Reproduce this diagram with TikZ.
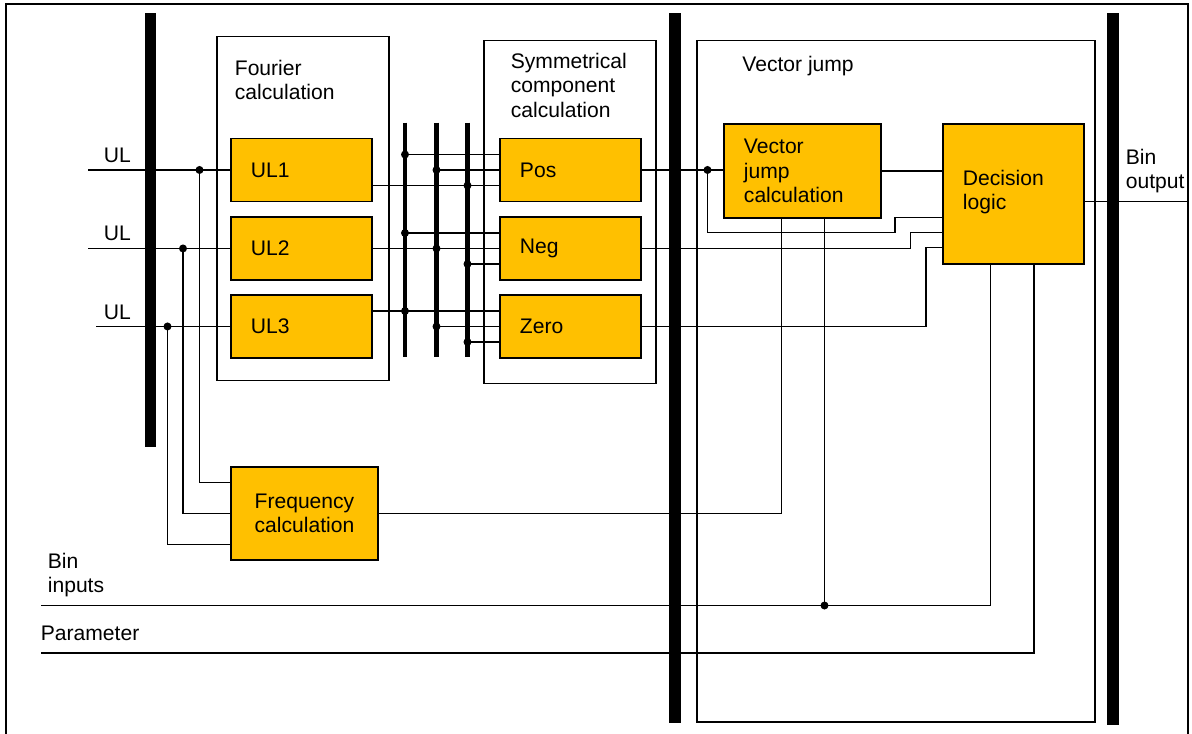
\documentclass[tikz,border=0pt]{standalone}
\usepackage{fontspec}
\setmainfont{Liberation Sans}
\definecolor{boxyellow}{RGB}{255,192,0}

\tikzset{
    calcbox/.style={draw=black, line width=1.1pt, fill=boxyellow, anchor=north west, inner xsep=0.4cm, align=left},
    groupbox/.style={draw=black, line width=0.9pt, anchor=north west, inner sep=0},
    title/.style={anchor=north west, inner sep=0, align=left},
    sig/.style={anchor=base west, inner sep=0},
    dot/.style={circle, fill=black, inner sep=0, minimum size=0.16cm},
    bus/.style={line width=2.3pt},
}

\begin{document}
\begin{tikzpicture}[font=\fontsize{12}{14}\selectfont, line width=1pt]
                \useasboundingbox (0,0) rectangle (23.84,-14.66);
                \draw[line width=1.2pt] (0.12,-0.08) rectangle (23.76,-15);

                % heavy rails
                \fill (2.9,-0.26) rectangle (3.12,-8.94);
                \fill (13.38,-0.26) rectangle (13.62,-14.46);
                \fill (22.14,-0.26) rectangle (22.38,-14.5);

                % function frames
                \node[groupbox, minimum width=3.44cm, minimum height=6.88cm] (fourier) at (4.32,-0.71) {};
                \node[groupbox, minimum width=3.44cm, minimum height=6.86cm] (symcomp) at (9.66,-0.79) {};
                \node[groupbox, minimum width=7.96cm, minimum height=13.63cm] (vjump) at (13.92,-0.79) {};
                \node[title] (fourier-title) at (4.68,-1.18) {Fourier\\calculation};
                \node[title] (symcomp-title) at (10.2,-1.04) {Symmetrical\\component\\calculation};
                \node[sig] (vjump-title) at (14.83,-1.434) {Vector jump};

                % blocks
                \node[calcbox, minimum height=1.26cm, text width=2.02cm] (ul1) at (4.6,-2.75) {UL1};
                \node[calcbox, minimum height=1.26cm, text width=2.02cm] (ul2) at (4.6,-4.32) {UL2};
                \node[calcbox, minimum height=1.26cm, text width=2.02cm] (ul3) at (4.6,-5.88) {UL3};
                \node[calcbox, minimum height=1.26cm, text width=2.02cm] (pos) at (9.98,-2.75) {Pos};
                \node[calcbox, minimum height=1.26cm, text width=2.02cm] (neg) at (9.98,-4.32) {Neg};
                \node[calcbox, minimum height=1.26cm, text width=2.02cm] (zero) at (9.98,-5.88) {Zero};
                \node[calcbox, minimum height=1.88cm, text width=2.34cm] (vjcalc) at (14.46,-2.46) {Vector\\jump\\calculation};
                \node[calcbox, minimum height=2.8cm, text width=2.02cm] (decision) at (18.84,-2.46) {Decision\\logic\\[-0.33cm]\mbox{}};
                \node[calcbox, minimum height=1.86cm, text width=2.14cm, align=center] (freq) at (4.6,-9.32) {Frequency\\calculation};

                % voltage inputs and taps to frequency
                \coordinate (inx) at (1.76,0);
                \coordinate (inx3) at (1.92,0);
                \draw (ul1.west -| inx) -- (ul1.west);
                \draw (ul2.west -| inx) -- (ul2.west);
                \draw (ul3.west -| inx3) -- (ul3.west);
                \node[sig] (ul-in1) at (2.06,-3.246) {UL};
                \node[sig] (ul-in2) at (2.06,-4.814) {UL};
                \node[sig] (ul-in3) at (2.06,-6.38) {UL};

                \coordinate (tx1) at (3.99,0);
                \coordinate (tx2) at (3.66,0);
                \coordinate (tx3) at (3.35,0);
                \node[dot] (tap1) at (ul1.west -| tx1) {};
                \node[dot] (tap2) at (ul2.west -| tx2) {};
                \node[dot] (tap3) at (ul3.west -| tx3) {};
                \draw (tap1.center) |- ([yshift=0.62cm]freq.west);
                \draw (tap2.center) |- (freq.west);
                \draw (tap3.center) |- ([yshift=-0.62cm]freq.west);

                % phase busses
                \coordinate (b1) at (8.1,-2.45);
                \coordinate (b2) at (8.73,-2.45);
                \coordinate (b3) at (9.35,-2.45);
                \foreach \rail in {b1,b2,b3}
                    \draw[bus] (\rail) -- ++(0,-4.68);

                \draw ([yshift=-0.31cm]ul1.east) -- ([yshift=-0.31cm]pos.west);
                \draw (ul2.east) -- (neg.west);
                \draw ([yshift=0.31cm]ul3.east) -- ([yshift=0.31cm]zero.west);

                \foreach \blk/\rail/\s in {pos/b1/0.31, pos/b2/0, pos/b3/-0.31, neg/b1/0.31, neg/b2/0, neg/b3/-0.31, zero/b1/0.31, zero/b2/0, zero/b3/-0.31}
                    \draw ([yshift=\s cm]\blk.west -| \rail) node[dot] (\blk-\rail) {} -- ([yshift=\s cm]\blk.west);

                % into vector jump
                \coordinate (dl1) at ([yshift=-0.47cm]decision.west);
                \coordinate (dl2) at ([yshift=-0.77cm]decision.west);
                \coordinate (dl3) at ([yshift=-1.07cm]decision.west);
                \coordinate (sx) at (14.15,0);
                \coordinate (st1) at (17.9,0);
                \coordinate (st2) at (18.21,0);
                \coordinate (st3) at (18.52,0);

                \draw (pos.east) -- (pos.east -| vjcalc.west);
                \node[dot] (split) at (pos.east -| sx) {};
                \draw (split.center) |- (dl2 -| st1) |- (dl1);
                \draw (neg.east) -| (dl2 -| st2) -- (dl2);
                \draw (zero.east) -| (dl3 -| st3) -- (dl3);
                \draw (vjcalc.east) -- (vjcalc.east -| decision.west);

                \coordinate (outx) at (23.73,0);
                \draw ([yshift=-0.15cm]decision.east) -- ([yshift=-0.15cm]decision.east -| outx);
                \node[title] (binout-title) at (22.5,-2.96) {Bin\\output};

                \coordinate (fx) at (15.63,0);
                \draw (freq.east) -| (vjcalc.south -| fx);

                % binary inputs and parameter
                \coordinate (binin) at (0.82,-12.11);
                \coordinate (param) at (0.82,-13.06);
                \coordinate (bx) at (19.81,0);
                \coordinate (jx) at (16.49,0);
                \coordinate (px) at (20.68,0);
                \draw (binin) -| (decision.south -| bx);
                \node[dot] (binjoin) at (binin -| jx) {};
                \draw (binjoin.center) -- (vjcalc.south -| jx);
                \draw (param) -| (decision.south -| px);
                \node[title] (binin-title) at (0.94,-11.04) {Bin\\inputs};
                \node[sig] (param-title) at (0.8,-12.81) {Parameter};
\end{tikzpicture}
\end{document}
